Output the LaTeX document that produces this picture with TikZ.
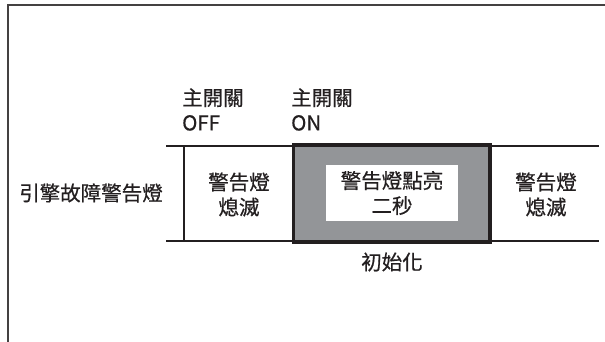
\documentclass[tikz,border=0pt]{standalone}
\usepackage{fontspec}
\newfontfamily\cjk{Noto Sans CJK TC}[FakeBold=0.6]
\usepackage{tikz}
\usetikzlibrary{positioning}
\definecolor{boxgray}{HTML}{939598}
\definecolor{ink}{HTML}{231F20}
\tikzset{
  frame/.style={draw=ink!85, line width=1.6pt},
  bar/.style={draw=ink, line width=2.4pt},
  divider/.style={draw=ink, line width=1.6pt},
  graybox/.style={draw=ink, fill=boxgray, line width=2.6pt, minimum width=195pt, minimum height=95pt, inner sep=0pt},
  whitebox/.style={fill=white, minimum width=132pt, minimum height=56pt, inner sep=0pt, align=center},
  txt/.style={text=ink, align=center, inner sep=0pt, font=\cjk\fontsize{20.5}{25}\selectfont}
}
\begin{document}
\begin{tikzpicture}[x=1pt,y=-1pt]
  \useasboundingbox (0,0) rectangle (605,342);
  % frame
  \coordinate (f1) at (8,342);
  \coordinate (f2) at (8,5);
  \coordinate (f3) at (605,5);
  \draw[frame] (f1) -- (f2) -- (f3);

  % time bars
  \coordinate (t1) at (166,146);
  \coordinate (t2) at (599,146);
  \coordinate (u1) at (166,241);
  \coordinate (u2) at (599,241);
  \coordinate (v1) at (184,146);
  \coordinate (v2) at (184,241);
  \node[graybox] (init) at (391.5,193.5) {};
  \draw[bar] (t1) -- (t2);
  \draw[bar] (u1) -- (u2);
  \draw[divider] (v1) -- (v2);
  \draw[bar] (init.north west) rectangle (init.south east);

  \node[whitebox, txt] (on) at (392,193) {警告燈點亮\\二秒};
  \node[txt] (lamp) at (91,193) {引擎故障警告燈};
  \node[txt] (off1) at (239,194.5) {警告燈\\熄滅};
  \node[txt] (off2) at (546,194.5) {警告燈\\熄滅};
  \node[txt, anchor=west, align=left] (swoff) at (182,109.5) {主開關\\OFF};
  \node[txt, anchor=west, align=left] (swon) at (291,109.5) {主開關\\ON};
  \node[txt] (initlbl) at (392,262) {初始化};
\end{tikzpicture}
\end{document}
